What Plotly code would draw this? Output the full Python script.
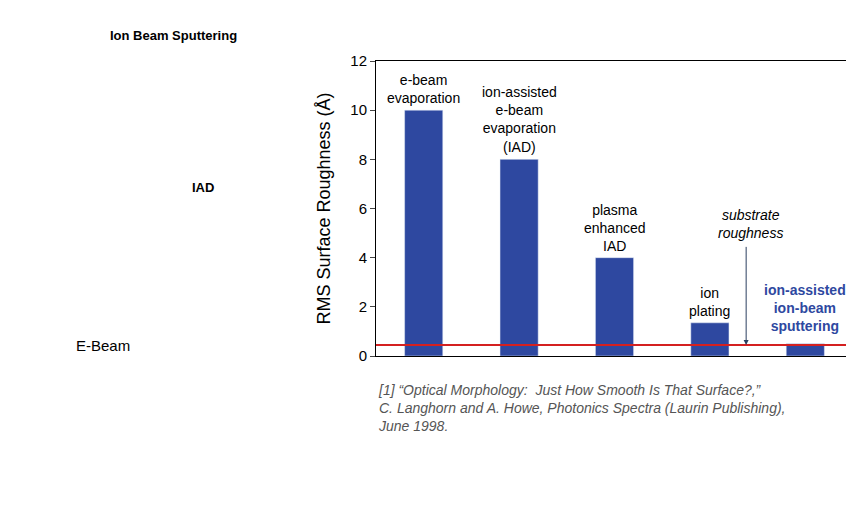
import plotly.graph_objects as go

categories = ["ebeam", "iad", "peiad", "ionplating", "iabs"]
roughness = [10.0, 8.0, 4.0, 1.35, 0.5]
bar_labels = ["e-beam<br>evaporation", "ion-assisted<br>e-beam<br>evaporation<br>(IAD)",
              "plasma<br>enhanced<br>IAD", "ion<br>plating", ""]
substrate_level = 0.45
panel_titles = ["Ion Beam Sputtering", "IAD", "E-Beam"]

fig = go.Figure()
fig.add_trace(go.Bar(x=categories, y=roughness, marker_color="#2E48A0", width=0.4))
for c, v, t in zip(categories, roughness, bar_labels):
    if t:
        fig.add_annotation(x=c, y=v, text=t, showarrow=False, yanchor="bottom", yshift=2,
                           font=dict(size=14, color="black"))
fig.add_annotation(x=categories[-1], y=0.8, text="<b>ion-assisted<br>ion-beam<br>sputtering</b>",
                   showarrow=False, yanchor="bottom", font=dict(size=14, color="#2E48A0"))
fig.add_shape(type="line", xref="paper", x0=0, x1=1, y0=substrate_level, y1=substrate_level,
              line=dict(color="#D42020", width=2))
fig.add_annotation(x=3.38, y=substrate_level, ax=3.38, ay=4.5, axref="x", ayref="y",
                   showarrow=True, arrowhead=2, arrowsize=1, arrowwidth=1, text="")
fig.add_annotation(x=3.43, y=4.6, text="<i>substrate<br>roughness</i>", showarrow=False,
                   yanchor="bottom", font=dict(size=14, color="black"))

fig.add_annotation(xref="paper", yref="paper", x=0, y=-0.08, xanchor="left", yanchor="top",
                   align="left", showarrow=False,
                   text="<i>[1] \u201cOptical Morphology:  Just How Smooth Is That Surface?,\u201d<br>"
                        "C. Langhorn and A. Howe, Photonics Spectra (Laurin Publishing),<br>"
                        "June 1998.</i>",
                   font=dict(size=14, color="#555555"))

# left-hand panel captions (surface images not reproduced)
for t, xx, yy, bold, sz in zip(panel_titles, [-0.425, -0.363, -0.572], [1.12, 0.57, 0.0],
                              [True, True, False], [13, 13, 15]):
    fig.add_annotation(xref="paper", yref="paper", x=xx, y=yy, text=("<b>%s</b>" % t) if bold else t,
                       showarrow=False, font=dict(size=sz, color="black"), xanchor="center")

fig.update_layout(
    width=854, height=508, paper_bgcolor="white", plot_bgcolor="white",
    margin=dict(l=368, r=9, t=53, b=160), showlegend=False,
    font=dict(family="Liberation Sans, Arial", size=15, color="black"),
)
fig.update_xaxes(showticklabels=False, showline=True, linecolor="black", mirror=True, ticks="")
fig.update_yaxes(range=[0, 12], dtick=2, showgrid=False, showline=True, linecolor="black",
                 mirror=True, ticks="outside", title_text="RMS Surface Roughness (\u00c5)",
                 zeroline=False)
fig.write_html("out.html")
